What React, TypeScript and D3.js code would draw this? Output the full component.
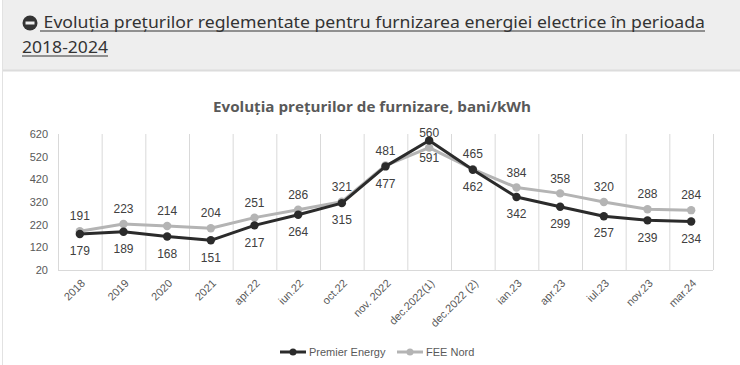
import React, { useEffect, useRef } from 'react';
import * as d3 from 'd3';

// categories and values
const categories = ['2018', '2019', '2020', '2021', 'apr.22', 'iun.22', 'oct.22', 'nov. 2022', 'dec.2022(1)', 'dec.2022 (2)', 'ian.23', 'apr.23', 'iul.23', 'nov.23', 'mar.24'];
const premierEnergy = [179, 189, 168, 151, 217, 264, 315, 477, 591, 462, 342, 299, 257, 239, 234];
const feeNord = [191, 223, 214, 204, 251, 286, 321, 481, 560, 465, 384, 358, 320, 288, 284];
const yTicks = [20, 120, 220, 320, 420, 520, 620];

const W = 740;
const H = 365;

export default function App() {
  const ref = useRef<SVGSVGElement>(null);

  useEffect(() => {
    const svg = d3.select(ref.current);
    svg.selectAll('*').remove();

    // page header box
    svg.append('rect').attr('x', 0).attr('y', 0).attr('width', W).attr('height', H).attr('fill', '#fff');
    svg.append('rect').attr('x', 3).attr('y', 0).attr('width', W - 3).attr('height', 70).attr('fill', '#eeeeee');
    svg.append('line').attr('x1', 3).attr('x2', W).attr('y1', 70.5).attr('y2', 70.5).attr('stroke', '#dcdcdc').attr('stroke-width', 2);
    svg.append('line').attr('x1', 2.5).attr('x2', 2.5).attr('y1', 0).attr('y2', H).attr('stroke', '#e2e2e2');

    // minus-circle icon
    svg.append('circle').attr('cx', 30).attr('cy', 23).attr('r', 7.5).attr('fill', '#333');
    svg.append('rect').attr('x', 25.5).attr('y', 21.5).attr('width', 9).attr('height', 3).attr('fill', '#eee');

    const head = svg.append('g').attr('font-family', '"Noto Sans", sans-serif').attr('font-size', 17).attr('fill', '#333');
    head.append('text').attr('x', 39).attr('y', 28)
      .attr('textLength', 666).attr('lengthAdjust', 'spacingAndGlyphs')
      .text('\u00a0Evoluția prețurilor reglementate pentru furnizarea energiei electrice în perioada');
    head.append('text').attr('x', 22).attr('y', 53)
      .attr('textLength', 86).attr('lengthAdjust', 'spacingAndGlyphs')
      .text('2018-2024');
    head.append('line').attr('x1', 40).attr('x2', 705).attr('y1', 31).attr('y2', 31).attr('stroke', '#333').attr('stroke-width', 1.2);
    head.append('line').attr('x1', 22).attr('x2', 108).attr('y1', 56).attr('y2', 56).attr('stroke', '#333').attr('stroke-width', 1.2);

    // chart title
    svg.append('text').attr('x', 372).attr('y', 112).attr('text-anchor', 'middle')
      .attr('font-family', '"Open Sans", sans-serif').attr('font-weight', 'bold').attr('font-size', 15)
      .attr('fill', '#595959').attr('textLength', 318).attr('lengthAdjust', 'spacingAndGlyphs')
      .text('Evoluția prețurilor de furnizare, bani/kWh');

    const x = d3.scaleBand().domain(categories).range([58, 713]);
    const y = d3.scaleLinear().domain([20, 620]).range([270, 134]);
    const cx = (c: string) => (x(c) as number) + x.bandwidth() / 2;

    // vertical gridlines at category boundaries
    const bounds = categories.map((c) => x(c) as number).concat([713]);
    svg.append('g').selectAll('line').data(bounds).join('line')
      .attr('x1', (d) => d + 0.5).attr('x2', (d) => d + 0.5)
      .attr('y1', y(620)).attr('y2', y(20))
      .attr('stroke', '#d9d9d9');
    svg.append('line').attr('x1', 58).attr('x2', 713).attr('y1', y(20) + 0.5).attr('y2', y(20) + 0.5).attr('stroke', '#d9d9d9');

    // y axis labels
    svg.append('g').selectAll('text').data(yTicks).join('text')
      .attr('x', 48).attr('y', (d) => y(d)).attr('dy', '0.35em').attr('text-anchor', 'end')
      .attr('font-family', '"Liberation Sans", Arial, sans-serif').attr('font-size', 11).attr('fill', '#595959')
      .text((d) => d);

    // x axis labels
    svg.append('g').selectAll('text').data(categories).join('text')
      .attr('transform', (c) => `translate(${cx(c) + 6},${284}) rotate(-45)`)
      .attr('text-anchor', 'end')
      .attr('font-family', '"Liberation Sans", Arial, sans-serif').attr('font-size', 11).attr('fill', '#595959')
      .text((c) => c);

    const line = d3.line<number>().x((_, i) => cx(categories[i])).y((d) => y(d));

    const series = [
      { name: 'FEE Nord', values: feeNord, color: '#b4b4b4', dy: -15 },
      { name: 'Premier Energy', values: premierEnergy, color: '#2b2b2b', dy: 17 },
    ];

    series.forEach((s) => {
      svg.append('path').datum(s.values).attr('d', line).attr('fill', 'none')
        .attr('stroke', s.color).attr('stroke-width', 3).attr('stroke-linejoin', 'round');
      svg.append('g').selectAll('circle').data(s.values).join('circle')
        .attr('cx', (_, i) => cx(categories[i])).attr('cy', (d) => y(d)).attr('r', 4.2)
        .attr('fill', s.color);
    });

    series.forEach((s) => {
      svg.append('g').selectAll('text').data(s.values).join('text')
        .attr('x', (_, i) => cx(categories[i])).attr('y', (d) => y(d) + s.dy).attr('dy', '0.35em')
        .attr('text-anchor', 'middle')
        .attr('font-family', '"Liberation Sans", Arial, sans-serif').attr('font-size', 12).attr('fill', '#404040')
        .text((d) => d);
    });

    // legend
    const legend = [
      { name: 'Premier Energy', color: '#2b2b2b', x0: 280 },
      { name: 'FEE Nord', color: '#b4b4b4', x0: 397 },
    ];
    legend.forEach((l) => {
      svg.append('line').attr('x1', l.x0).attr('x2', l.x0 + 26).attr('y1', 352).attr('y2', 352)
        .attr('stroke', l.color).attr('stroke-width', 3);
      svg.append('circle').attr('cx', l.x0 + 13).attr('cy', 352).attr('r', 3.5).attr('fill', l.color);
      svg.append('text').attr('x', l.x0 + 29).attr('y', 352).attr('dy', '0.35em')
        .attr('font-family', '"Liberation Sans Narrow", "Liberation Sans", sans-serif').attr('font-size', 11).attr('fill', '#595959')
        .text(l.name);
    });
  }, []);

  return (
    <svg ref={ref} width={W} height={H} style={{ position: 'absolute', left: 0, top: 0 }} />
  );
}
